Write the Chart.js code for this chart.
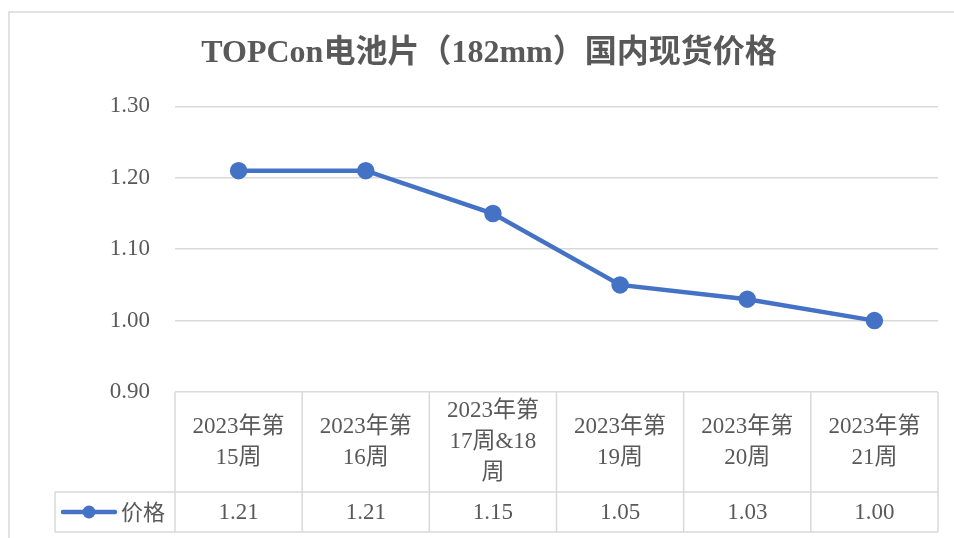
<!DOCTYPE html>
<html lang="zh">
<head>
<meta charset="UTF-8">
<title>TOPCon电池片国内现货价格</title>
<script src="https://cdn.jsdelivr.net/npm/chart.js"></script>
<style>
    html, body { margin: 0; padding: 0; background: #fff; }
    .chart-container { position: relative; width: 954px; height: 538px; }
</style>
</head>
<body>
<div class="chart-container">
    <canvas id="grafico"></canvas>
</div>
<script>
    // dados do gráfico
    const categorias = [
        ['2023年第', '15周'],
        ['2023年第', '16周'],
        ['2023年第', '17周&18', '周'],
        ['2023年第', '19周'],
        ['2023年第', '20周'],
        ['2023年第', '21周']
    ];
    const precos = [1.21, 1.21, 1.15, 1.05, 1.03, 1.00];
    const nomeSerie = '价格';
    const titulo = 'TOPCon电池片（182mm）国内现货价格';

    const corLinha = '#4472C4';
    const corTexto = '#595959';
    const corGrade = '#d9d9d9';
    const fonte = "'Liberation Serif', 'Times New Roman', 'Noto Sans CJK SC', serif";

    // tabela de dados embaixo do gráfico (estilo Excel)
    const tabelaPlugin = {
        id: 'tabela',
        afterDraw(chart) {
            const ctx = chart.ctx;
            const area = chart.chartArea;
            const x = chart.scales.x;
            const n = categorias.length;
            const larg = (area.right - area.left) / n;
            const topo = area.bottom;
            const meio = topo + 100;
            const fim = meio + 40;
            const legEsq = 55;

            ctx.save();
            // borda externa
            ctx.strokeStyle = corGrade;
            ctx.lineWidth = 1.5;
            ctx.strokeRect(9, 12, 960, 540);

            // linhas da tabela
            ctx.beginPath();
            for (let i = 0; i <= n; i++) {
                const xx = area.left + i * larg;
                ctx.moveTo(xx, topo);
                ctx.lineTo(xx, fim);
            }
            ctx.moveTo(legEsq, meio);
            ctx.lineTo(legEsq, fim);
            ctx.moveTo(legEsq, meio);
            ctx.lineTo(area.right, meio);
            ctx.moveTo(legEsq, fim);
            ctx.lineTo(area.right, fim);
            ctx.stroke();

            // textos
            ctx.fillStyle = corTexto;
            ctx.font = '23px ' + fonte;
            ctx.textAlign = 'center';
            ctx.textBaseline = 'middle';
            const alturaLinha = 31;
            categorias.forEach((linhas, i) => {
                const cx = x.getPixelForValue(i);
                const y0 = (topo + meio) / 2 - (linhas.length - 1) * alturaLinha / 2;
                linhas.forEach((t, j) => ctx.fillText(t, cx, y0 + j * alturaLinha));
                ctx.fillText(precos[i].toFixed(2), cx, (meio + fim) / 2 + 1);
            });

            // chave da legenda
            const ly = (meio + fim) / 2;
            ctx.strokeStyle = corLinha;
            ctx.lineWidth = 4.5;
            ctx.lineCap = 'round';
            ctx.beginPath();
            ctx.moveTo(63, ly);
            ctx.lineTo(115, ly);
            ctx.stroke();
            ctx.fillStyle = corLinha;
            ctx.beginPath();
            ctx.arc(89, ly, 6.5, 0, Math.PI * 2);
            ctx.fill();
            ctx.fillStyle = corTexto;
            ctx.textAlign = 'left';
            ctx.font = "22px 'Noto Sans CJK SC', sans-serif";
            ctx.fillText(nomeSerie, 121, ly);
            ctx.restore();
        }
    };

    new Chart(document.getElementById('grafico'), {
        type: 'line',
        data: {
            labels: categorias.map(c => c.join('')),
            datasets: [{
                label: nomeSerie,
                data: precos,
                borderColor: corLinha,
                backgroundColor: corLinha,
                borderWidth: 4.5,
                pointRadius: 6.5,
                pointHoverRadius: 6.5,
                tension: 0
            }]
        },
        options: {
            responsive: true,
            maintainAspectRatio: false,
            animation: false,
            layout: {
                padding: { top: 22, right: 16, bottom: 146, left: 40 }
            },
            scales: {
                x: {
                    display: false,
                    offset: true
                },
                y: {
                    min: 0.9,
                    max: 1.3,
                    afterFit(scale) { scale.width = 135; },
                    border: { display: false },
                    grid: { color: corGrade, lineWidth: 1.5, drawTicks: false },
                    ticks: {
                        stepSize: 0.1,
                        padding: 25,
                        color: corTexto,
                        font: { family: fonte, size: 23 },
                        callback: v => Number(v).toFixed(2)
                    }
                }
            },
            plugins: {
                legend: { display: false },
                tooltip: { enabled: false },
                title: {
                    display: true,
                    text: titulo,
                    color: corTexto,
                    font: { family: fonte, size: 32, weight: 'bold', lineHeight: 1.2 },
                    padding: { top: 13, bottom: 33 }
                }
            }
        },
        plugins: [tabelaPlugin]
    });
</script>
</body>
</html>
